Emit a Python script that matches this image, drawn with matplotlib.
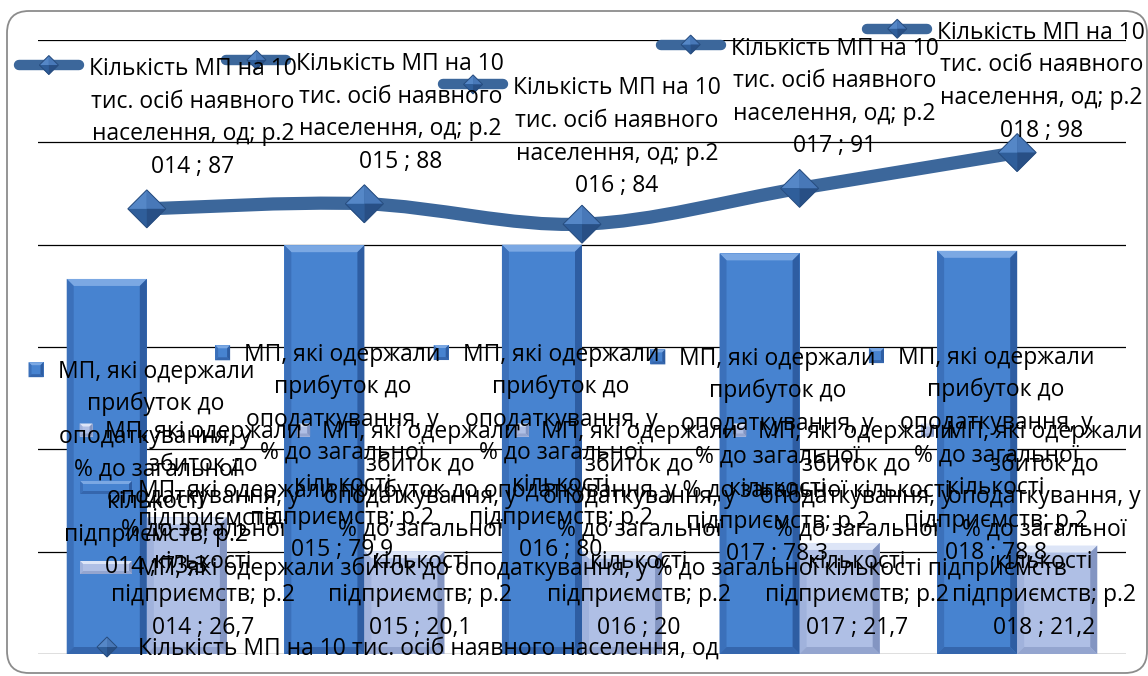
import matplotlib
matplotlib.use("Agg")
import matplotlib.pyplot as plt
import numpy as np
from matplotlib.patches import Polygon, FancyBboxPatch, PathPatch
from matplotlib.path import Path
from matplotlib.transforms import Affine2D, IdentityTransform
from matplotlib.lines import Line2D

W, H, DPI = 1148, 676, 100
FONT = ["Open Sans", "DejaVu Sans"]

# ---- data -------------------------------------------------------------
years = ["р.2014", "р.2015", "р.2016", "р.2017", "р.2018"]
profit_share = [73.3, 79.9, 80.0, 78.3, 78.8]      # % of enterprises with pre-tax profit
loss_share = [26.7, 20.1, 20.0, 21.7, 21.2]        # % of enterprises with pre-tax loss
mp_per_10k = [87, 88, 84, 91, 98]                  # small enterprises per 10k residents

profit_name_lines = ["МП, які одержали", "прибуток до", "оподаткування, у",
                     "% до загальної", "кількості", "підприємств"]
loss_name_lines = ["МП, які одержали", "збиток до", "оподаткування, у",
                   "% до загальної", "кількості", "підприємств"]
count_name_lines = ["Кількість МП на 10", "тис. осіб наявного", "населення, од"]

y_ticks = [0, 20, 40, 60, 80, 100, 120]

# ---- label layout (pixel nudges) ---------------------------------------
count_label_dx = [46, 36, 35, 35, 24]
count_label_lift = [36, 36, 32, 36, 16]
profit_label_dx = [49, 18, 19, 18, 19]
loss_label_dx = [16, 16, 17, 17, -13]
loss_label_rise = 216

LINE_C = "#3C679B"
PROFIT = dict(face="#4783D0", top="#7BA8E3", left="#3B70BA", right="#2E5DA2", bottom="#3566AD")
LOSS = dict(face="#AFBFE5", top="#DDE5F7", left="#A0B2DC", right="#8395C2", bottom="#94A5CF")


def fmt(v):
    return f"{v:g}".replace(".", ",")


def label_lines(name_lines, cat, val):
    return name_lines[:-1] + [f"{name_lines[-1]}; {cat[:3]}", f"{cat[3:]} ; {fmt(val)}"]


fig = plt.figure(figsize=(W / DPI, H / DPI), dpi=DPI)
ax = fig.add_axes([38 / W, 1 - 654 / H, (1126 - 38) / W, (654 - 40) / H])
ax.set_xlim(-0.5, 4.5)
ax.set_ylim(y_ticks[0], y_ticks[-1])
ax.set_yticks(y_ticks)
ax.set_xticks([])
ax.tick_params(length=0, labelleft=False, labelbottom=False)
for s in ax.spines.values():
    s.set_visible(False)
ax.yaxis.grid(True, color="black", lw=0.9)
ax.set_axisbelow(True)

PIX = Affine2D().scale(1, -1).translate(0, H)   # image pixels, y downward


def to_img(x, y):
    dx, dy = ax.transData.transform((x, y))
    return dx, H - dy


def poly(pts, color, z, **kw):
    ax.add_patch(Polygon(pts, closed=True, facecolor=color, edgecolor="none",
                         transform=PIX, zorder=z, clip_on=False, **kw))


def bevel_rect(x0, y0, x1, y1, c, b, z):
    poly([(x0, y0), (x1, y0), (x1, y1), (x0, y1)], c["face"], z)
    poly([(x0, y0), (x1, y0), (x1 - b, y0 + b), (x0 + b, y0 + b)], c["top"], z + 0.01)
    poly([(x0, y0), (x0 + b, y0 + b), (x0 + b, y1 - b), (x0, y1)], c["left"], z + 0.01)
    poly([(x1, y0), (x1, y1), (x1 - b, y1 - b), (x1 - b, y0 + b)], c["right"], z + 0.01)
    poly([(x0, y1), (x0 + b, y1 - b), (x1 - b, y1 - b), (x1, y1)], c["bottom"], z + 0.01)


def diamond(cx, cy, r, z):
    poly([(cx - r, cy), (cx, cy - r), (cx + r, cy), (cx, cy + r)], "#3567A4", z)
    poly([(cx - r, cy), (cx, cy - r), (cx, cy)], "#5587C7", z + 0.01)
    poly([(cx, cy - r), (cx + r, cy), (cx, cy)], "#4878B8", z + 0.01)
    poly([(cx - r, cy), (cx, cy), (cx, cy + r)], "#2F5E9A", z + 0.01)
    poly([(cx, cy), (cx + r, cy), (cx, cy + r)], "#284F85", z + 0.01)
    ax.add_patch(Polygon([(cx - r, cy), (cx, cy - r), (cx + r, cy), (cx, cy + r)], closed=True,
                         fill=False, edgecolor="#274C7E", lw=0.7, transform=PIX,
                         zorder=z + 0.02, clip_on=False))


# ---- bars ---------------------------------------------------------------
xs = np.arange(len(years))
bw = 0.368
bars_p = ax.bar(xs - bw / 2, profit_share, bw, color="none", zorder=2)
bars_l = ax.bar(xs + bw / 2, loss_share, bw, color="none", zorder=2)


def bar_box(rect):
    x0, y1 = to_img(rect.get_x(), rect.get_y())
    x1, y0 = to_img(rect.get_x() + rect.get_width(), rect.get_y() + rect.get_height())
    return x0, y0, x1, y1


for rect in bars_p:
    bevel_rect(*bar_box(rect), PROFIT, 7, 2)
for rect in bars_l:
    bevel_rect(*bar_box(rect), LOSS, 7, 2)

# ---- smoothed line with diamond markers --------------------------------
pts = np.column_stack([xs, mp_per_10k]).astype(float)
verts, codes = [pts[0]], [Path.MOVETO]
n = len(pts)
for i in range(n - 1):
    p0 = pts[i - 1] if i > 0 else pts[i]
    p1, p2 = pts[i], pts[i + 1]
    p3 = pts[i + 2] if i + 2 < n else pts[i + 1]
    verts += [p1 + (p2 - p0) / 6, p2 - (p3 - p1) / 6, p2]
    codes += [Path.CURVE4] * 3
ax.add_patch(PathPatch(Path(verts, codes), fill=False, edgecolor=LINE_C, lw=9.5,
                       capstyle="round", joinstyle="round", zorder=3))
for x, v in zip(xs, mp_per_10k):
    diamond(*to_img(x, v), 19, 3.5)

# ---- text helpers -------------------------------------------------------
renderer = fig.canvas.get_renderer()
probe = fig.text(0, 0, count_name_lines[0], fontsize=16, family=FONT)
FS = 16 * 208 / probe.get_window_extent(renderer).width
probe.remove()
LS = 32.6


def put_text(x, y, s, ha="center"):
    return ax.text(x, y, s, transform=PIX, ha=ha, va="baseline", fontsize=FS,
                   family=FONT, color="black", zorder=6, clip_on=False)


def text_width(s):
    t = fig.text(0, 0, s, fontsize=FS, family=FONT)
    w = t.get_window_extent(renderer).width
    t.remove()
    return w


def block(lines, cx, first_baseline):
    for k, s in enumerate(lines):
        put_text(cx, first_baseline + k * LS, s)
    return cx - text_width(lines[0]) / 2


def key_line(right, baseline):
    y = baseline - 10
    ax.add_line(Line2D([right - 60, right], [y, y], lw=7.5, color=LINE_C,
                       solid_capstyle="round", transform=PIX, zorder=5.5, clip_on=False))
    diamond(right - 30, y, 9.5, 5.6)


def key_square(right, baseline, size, c):
    y = baseline - 8
    bevel_rect(right - size, y - size / 2, right, y + size / 2, c, 3, 5.5)


# line labels
for i, (cat, v) in enumerate(zip(years, mp_per_10k)):
    px, py = to_img(xs[i], v)
    lines = label_lines(count_name_lines, cat, v)
    first = py - count_label_lift[i] - (len(lines) - 1) * LS
    left = block(lines, px + count_label_dx[i], first)
    key_line(left - 10, first)

# profit labels, centred on the bar body
for i, (cat, v) in enumerate(zip(years, profit_share)):
    x0, y0, x1, y1 = bar_box(bars_p[i])
    lines = label_lines(profit_name_lines, cat, v)
    first = (y0 + y1) / 2 - (len(lines) - 1) * LS / 2 + 9
    left = block(lines, (x0 + x1) / 2 + profit_label_dx[i], first)
    key_square(left - 14, first, 15, PROFIT)

# loss labels, raised above the bar base
for i, (cat, v) in enumerate(zip(years, loss_share)):
    x0, y0, x1, y1 = bar_box(bars_l[i])
    lines = label_lines(loss_name_lines, cat, v)
    first = y1 - loss_label_rise
    left = block(lines, (x0 + x1) / 2 + loss_label_dx[i], first)
    key_square(left - 12, first, 13, LOSS)

# ---- legend -------------------------------------------------------------
profit_name = " ".join(profit_name_lines)
loss_name = " ".join(loss_name_lines)
count_name = " ".join(count_name_lines)

p_head, p_tail = profit_name.rsplit(" ", 1)
bevel_rect(80, 481, 132, 494, PROFIT, 3, 5.5)
put_text(138, 497, p_head, ha="left")
put_text(138, 525, p_tail, ha="left")
bevel_rect(80, 561, 132, 574, LOSS, 3, 5.5)
put_text(138, 575, loss_name, ha="left")
diamond(107, 647, 10, 5.6)
put_text(138, 655, count_name, ha="left")

# ---- chart frame --------------------------------------------------------
fig.add_artist(FancyBboxPatch((7, H - 673), 1140, 662,
                              boxstyle="round,pad=0,rounding_size=22",
                              transform=IdentityTransform(), fill=False,
                              edgecolor="#8C8C8C", lw=1.3))

fig.savefig("out.png", dpi=DPI)
